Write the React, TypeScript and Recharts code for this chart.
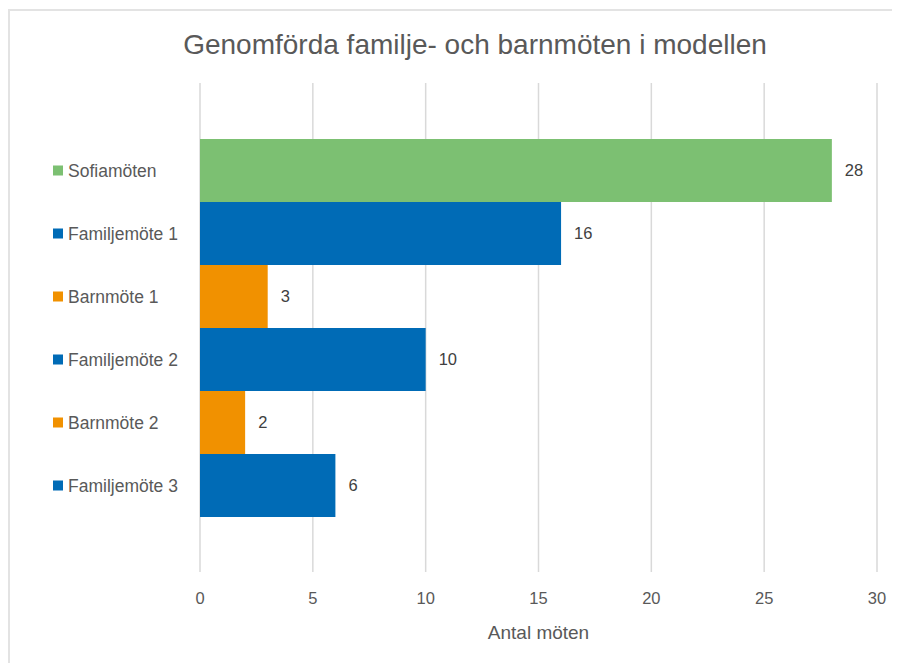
import React from 'react';
import { BarChart, Bar, XAxis, YAxis, CartesianGrid, Cell, LabelList } from 'recharts';

const categories = ['Sofiamöten', 'Familjemöte 1', 'Barnmöte 1', 'Familjemöte 2', 'Barnmöte 2', 'Familjemöte 3'];
const values = [28, 16, 3, 10, 2, 6];
const colors = ['#7CC072', '#006BB6', '#F19100', '#006BB6', '#F19100', '#006BB6'];
const xTicks = [0, 5, 10, 15, 20, 25, 30];

const data = categories.map((name, i) => ({ name, value: values[i], color: colors[i] }));

const FONT = '"Liberation Sans Narrow", "Liberation Sans", "Noto Sans", sans-serif';

const YTick = (props: any) => {
  const { y, payload } = props;
  const idx = categories.indexOf(payload.value);
  const c = colors[idx] || '#595959';
  return (
    <g>
      <rect x={45} y={y - 5} width={10} height={10} fill={c} />
      <text x={60} y={y} dy={6} fill="#595959" fontSize={17.5} fontFamily={FONT} textAnchor="start">
        {payload.value}
      </text>
    </g>
  );
};

export default function App() {
  return (
    <div style={{ position: 'relative', width: 892, height: 655, background: '#fff', fontFamily: FONT }}>
      <div style={{ position: 'absolute', left: 0, top: 1, width: 892, height: 2, background: '#e3e3e3' }} />
      <div style={{ position: 'absolute', left: 0, top: 1, width: 2, height: 654, background: '#e3e3e3' }} />
      <div
        style={{
          position: 'absolute',
          left: 0,
          width: 934,
          top: 21,
          textAlign: 'center',
          fontSize: 28,
          color: '#595959',
          fontFamily: FONT,
        }}
      >
        Genomförda familje- och barnmöten i modellen
      </div>
      <BarChart
        width={892}
        height={655}
        data={data}
        layout="vertical"
        margin={{ top: 75, right: 23, bottom: 0, left: 0 }}
        barCategoryGap={0}
      >
        <CartesianGrid horizontal={false} stroke="#d9d9d9" strokeWidth={1.5} />
        <XAxis
          type="number"
          domain={[0, 30]}
          ticks={xTicks}
          tickLine={false}
          axisLine={false}
          height={91}
          tickSize={0}
          tickMargin={20}
          tick={{ fill: '#595959', fontSize: 16.5, fontFamily: FONT }}
          label={{ value: 'Antal möten', position: 'insideBottom', offset: 24, fill: '#595959', fontSize: 19, fontFamily: FONT }}
        />
        <YAxis
          type="category"
          dataKey="name"
          width={192}
          tickLine={false}
          axisLine={false}
          padding={{ top: 56, bottom: 55 }}
          tick={<YTick />}
          interval={0}
        />
        <Bar dataKey="value" isAnimationActive={false}>
          {data.map((d, i) => (
            <Cell key={i} fill={d.color} />
          ))}
          <LabelList dataKey="value" position="right" offset={13} fill="#404040" fontSize={16.5} fontFamily={FONT} />
        </Bar>
      </BarChart>
    </div>
  );
}
